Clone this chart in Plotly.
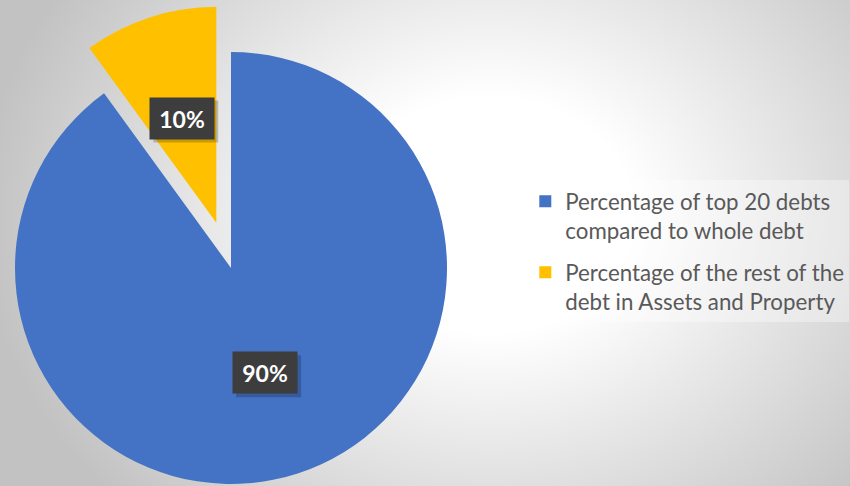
import math
import plotly.graph_objects as go

# ---------------- data ----------------
labels = [
    "Percentage of top 20 debts<br>compared to whole debt",
    "Percentage of the rest of the<br>debt in Assets and Property",
]
values = [90, 10]
colors = ["#4472C4", "#FFC000"]
exploded = [False, True]

# ---------------- geometry / style ----------------
W, H = 850, 486
CX, CY, R = 231, 268, 216      # main pie centre / radius (pixels, y down)
PULL = 0.22                    # explode distance as fraction of radius
LABEL_R = 0.51                 # data label distance as fraction of radius
BOX_W, BOX_H = 64, 41          # data label box size (pixels)
FONT = "Lato"
TRANSPARENT = "rgba(0,0,0,0)"

total = sum(values)


def mid_angle(i):
    start = sum(values[:i]) / total * 360.0
    return math.radians(start + values[i] / total * 180.0)   # clockwise from 12 o'clock


def centre_of(i):
    if not exploded[i]:
        return CX, CY
    a = mid_angle(i)
    return CX + PULL * R * math.sin(a), CY - PULL * R * math.cos(a)


def domain_for(cx, cy, r):
    clamp = lambda v: min(1.0, max(0.0, v))
    return dict(
        x=[clamp((cx - r) / W), clamp((cx + r) / W)],
        y=[clamp((H - cy - r) / H), clamp((H - cy + r) / H)],
    )


fig = go.Figure()

# radial gradient background
GX, GY, HX, HY = 490, 215, 510, 420
fig.add_trace(go.Scatter(
    x=[GX - HX, GX + HX, GX + HX, GX - HX, GX - HX],
    y=[GY - HY, GY - HY, GY + HY, GY + HY, GY - HY],
    mode="lines", line=dict(width=0), fill="toself",
    fillgradient=dict(type="radial",
                      colorscale=[[0, "#ffffff"], [0.28, "#ffffff"], [1, "#c2c2c2"]]),
    hoverinfo="skip", showlegend=False,
))

# legend carriers (microscopic pies, one per entry)
for i in range(len(values)):
    fig.add_trace(go.Pie(
        labels=[labels[i]], values=[values[i]],
        marker=dict(colors=[colors[i]], line=dict(width=0)),
        textinfo="none", hoverinfo="skip", legendgroup=f"g{i}",
        domain=dict(x=[0.9995, 1], y=[0, 0.001]), showlegend=True,
    ))

# one pie per slice position (main pie + exploded slice)
for i in range(len(values)):
    cx, cy = centre_of(i)
    cols = [c if j == i else TRANSPARENT for j, c in enumerate(colors)]
    fig.add_trace(go.Pie(
        labels=labels, values=values, sort=False, direction="clockwise", rotation=0,
        marker=dict(colors=cols, line=dict(width=0)),
        textinfo="none", hoverinfo="label+percent",
        domain=domain_for(cx, cy, R), showlegend=False,
    ))

# data labels in dark boxes (with a soft drop shadow)
annotations, shapes = [], []
for i, v in enumerate(values):
    cx, cy = centre_of(i)
    a = mid_angle(i)
    px = cx + LABEL_R * R * math.sin(a)
    py = cy - LABEL_R * R * math.cos(a)
    shapes.append(dict(type="rect", xref="x", yref="y", layer="above",
                       x0=px - BOX_W / 2 + 3, x1=px + BOX_W / 2 + 4,
                       y0=py - BOX_H / 2 + 3, y1=py + BOX_H / 2 + 4,
                       fillcolor="rgba(0,0,0,0.2)", line=dict(width=0)))
    annotations.append(dict(
        x=px / W, y=1 - py / H, xref="paper", yref="paper", showarrow=False,
        xanchor="center", yanchor="middle",
        width=BOX_W - 2, height=BOX_H - 2, borderpad=1, align="center", valign="middle",
        text=f"<b>{v / total * 100:.0f}%</b>",
        font=dict(family=FONT, size=23, color="#ffffff"),
        bgcolor="#3d3d3d",
    ))

fig.update_layout(
    width=W, height=H,
    margin=dict(l=0, r=0, t=0, b=0, autoexpand=False),
    paper_bgcolor="#d4d4d4", plot_bgcolor=TRANSPARENT,
    xaxis=dict(range=[0, W], visible=False, fixedrange=True),
    yaxis=dict(range=[H, 0], visible=False, fixedrange=True),
    legend=dict(x=0.618, y=0.483, xanchor="left", yanchor="middle",
                bgcolor="rgba(255,255,255,0.35)", valign="top",
                font=dict(family=FONT, size=22.3, color="#595959"),
                traceorder="grouped", tracegroupgap=10),
    annotations=annotations,
    shapes=shapes,
    font=dict(family=FONT),
)

fig.write_html("out.html")
